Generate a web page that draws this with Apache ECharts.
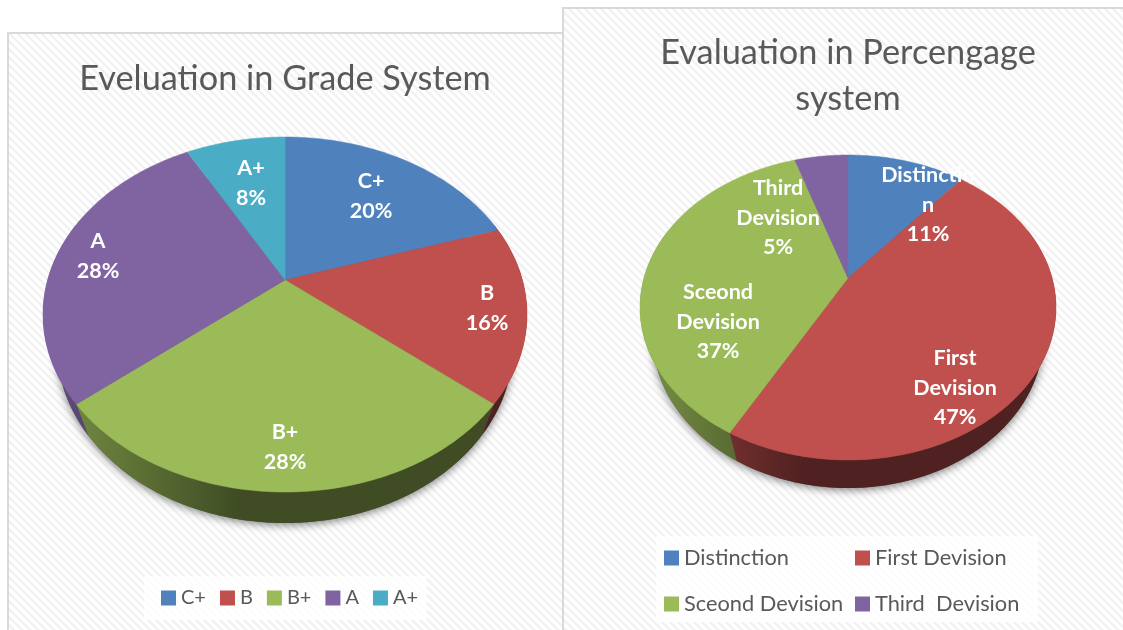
<!DOCTYPE html>
<html>
<head>
<meta charset="utf-8">
<style>html,body{margin:0;padding:0;background:#fff}#c{width:1123px;height:630px}</style>
<script src="https://cdn.jsdelivr.net/npm/echarts@6/dist/echarts.min.js"></script>
</head>
<body>
<div id="c"></div>
<script>
// ---- data ----
const gradeCategories = ['C+', 'B', 'B+', 'A', 'A+'];
const gradeValues = [20, 16, 28, 28, 8];
const gradeLabels = ['C+\n20%', 'B\n16%', 'B+\n28%', 'A\n28%', 'A+\n8%'];
const percentCategories = ['Distinction', 'First Devision', 'Sceond Devision', 'Third  Devision'];
const percentValues = [11, 47, 37, 5];
const percentLabels = ['Distinctio\nn\n11%', 'First\nDevision\n47%', 'Sceond\nDevision\n37%', 'Third\nDevision\n5%'];
const colors = ['#4F81BD', '#C0504D', '#9BBB59', '#8064A2', '#4BACC6'];
const titleGrade = 'Eveluation in Grade System';
const titlePercent = 'Evaluation in Percengage\nsystem';

// ---- layout (not data) ----
const FONT = 'Lato, "Open Sans", sans-serif';
const gradeGeom = {cx: 285, cy: 280, top: 143, bottom: 212, halfW: 242, depth: 31, shrink: 0.943, left: 43};
const percentGeom = {cx: 848, cy: 278, top: 123, bottom: 182, halfW: 208, depth: 28, shrink: 0.94, left: 640};
const gradeLabelAt = [[371, 196], [487, 308], [285, 447], [98, 256], [251, 183]];
const percentLabelAt = [[928, 205], [955, 388], [718, 322], [778, 218]];

function projector(g) {
  const k = (g.bottom - g.top) / (g.bottom + g.top);
  const A = g.top * (1 + k);
  const B = g.halfW * Math.sqrt(1 - k * k);
  return {
    pt(theta, lower) {
      const x = Math.sin(theta), y = Math.cos(theta), w = 1 + k * y;
      const X = B * x / w, Y = -A * y / w;
      return lower ? [g.cx + X * g.shrink, g.cy + Y + g.depth] : [g.cx + X, g.cy + Y];
    },
    sideStart: 70 * Math.PI / 180, sideEnd: 290 * Math.PI / 180
  };
}
function arcPts(p, a0, a1, lower) {
  const n = Math.max(2, Math.ceil(Math.abs(a1 - a0) / (Math.PI / 180)));
  const out = [];
  for (let i = 0; i <= n; i++) out.push(p.pt(a0 + (a1 - a0) * i / n, lower));
  return out;
}
function shade(hex, f) {
  const v = parseInt(hex.slice(1), 16);
  return 'rgb(' + [(v >> 16) & 255, (v >> 8) & 255, v & 255].map(c => Math.round(c * f)).join(',') + ')';
}
function buildPie(names, values, labels, labelAt, g) {
  const p = projector(g);
  const total = values.reduce((a, b) => a + b, 0);
  const series = [{
    type: 'custom', name: 'rim' + g.cx, coordinateSystem: 'none', silent: true, data: [total],
    renderItem() {
      return {type: 'polygon', z2: 0, shape: {points: arcPts(p, 0, 2 * Math.PI, true)},
        style: {fill: '#555', shadowBlur: 9, shadowColor: 'rgba(0,0,0,0.5)', shadowOffsetY: 2}};
    }
  }];
  let cum = 0;
  names.forEach((name, i) => {
    const a0 = cum / total * 2 * Math.PI;
    cum += values[i];
    const a1 = cum / total * 2 * Math.PI;
    const color = colors[i];
    series.push({
      type: 'custom', name, coordinateSystem: 'none', silent: true,
      itemStyle: {color}, data: [values[i]],
      renderItem() {
        const children = [];
        const s0 = Math.max(a0, p.sideStart), s1 = Math.min(a1, p.sideEnd);
        if (s1 > s0) {
          const pts = arcPts(p, s0, s1, false).concat(arcPts(p, s1, s0, true));
          children.push({type: 'polygon', z2: 1, shape: {points: pts}, style: {
            fill: new echarts.graphic.LinearGradient(g.left, 0, g.left + 2 * g.halfW, 0, [
              {offset: 0, color: shade(color, 0.78)},
              {offset: 0.4, color: shade(color, 0.41)},
              {offset: 1, color: shade(color, 0.41)}
            ], true)
          }});
        }
        children.push({type: 'polygon', z2: 10,
          shape: {points: [[g.cx, g.cy]].concat(arcPts(p, a0, a1, false))},
          style: {fill: color, stroke: color, lineWidth: 0.5}});
        children.push({type: 'text', x: labelAt[i][0], y: labelAt[i][1], z2: 100, style: {
          text: labels[i], fill: '#fff', fontFamily: FONT, fontWeight: 'bold', fontSize: 21.5,
          lineHeight: 29.5, align: 'center', verticalAlign: 'middle'}});
        return {type: 'group', children};
      }
    });
  });
  return series;
}

// hatch tile for chart-area fill
const tile = document.createElement('canvas');
tile.width = tile.height = 8;
(function () {
  const c = tile.getContext('2d');
  c.fillStyle = '#fff'; c.fillRect(0, 0, 8, 8);
  c.strokeStyle = '#f2f2f2'; c.lineWidth = 2.6;
  [[-8, -8, 8, 8], [-8, 0, 8, 16], [0, -8, 16, 8]].forEach(l => {
    c.beginPath(); c.moveTo(l[0], l[1]); c.lineTo(l[2], l[3]); c.stroke();
  });
})();
const hatch = {image: tile, repeat: 'repeat'};
const border = '#d9d9d9';

const legendBase = {
  icon: 'rect', itemWidth: 15, itemHeight: 15, selectedMode: false, padding: 0,
  textStyle: {color: '#595959', fontFamily: FONT, fontSize: 21.8}
};

const chart = echarts.init(document.getElementById('c'), null, {renderer: 'canvas'});
chart.setOption({
  animation: false,
  backgroundColor: '#fff',
  title: [
    {text: titleGrade, left: 280, top: 57, textAlign: 'center',
      textStyle: {color: '#595959', fontFamily: FONT, fontSize: 34.3, fontWeight: 'normal'}},
    {text: titlePercent, left: 843, top: 25, textAlign: 'center',
      textStyle: {color: '#595959', fontFamily: FONT, fontSize: 34.3, fontWeight: 'normal', lineHeight: 46}}
  ],
  legend: [
    Object.assign({}, legendBase, {data: gradeCategories, left: 161, top: 588, itemGap: 14,
      textStyle: {color: '#595959', fontFamily: FONT, fontSize: 20}}),
    Object.assign({}, legendBase, {data: [percentCategories[0], percentCategories[2]], orient: 'vertical',
      left: 664, top: 547, itemGap: 24}),
    Object.assign({}, legendBase, {data: [percentCategories[1], percentCategories[3]], orient: 'vertical',
      left: 855, top: 547, itemGap: 24})
  ],
  graphic: [
    {type: 'rect', z: -10, silent: true, shape: {x: 8, y: 33, width: 560, height: 600},
      style: {fill: hatch, stroke: border, lineWidth: 2}},
    {type: 'rect', z: -9, silent: true, shape: {x: 563, y: 8, width: 570, height: 630},
      style: {fill: hatch, stroke: border, lineWidth: 2}},
    {type: 'rect', z: -8, silent: true, shape: {x: 144, y: 576, width: 283, height: 44},
      style: {fill: 'rgba(255,255,255,0.85)'}},
    {type: 'rect', z: -8, silent: true, shape: {x: 656, y: 536, width: 382, height: 86},
      style: {fill: 'rgba(255,255,255,0.85)'}}
  ],
  series: buildPie(gradeCategories, gradeValues, gradeLabels, gradeLabelAt, gradeGeom)
    .concat(buildPie(percentCategories, percentValues, percentLabels, percentLabelAt, percentGeom))
});
</script>
</body>
</html>
